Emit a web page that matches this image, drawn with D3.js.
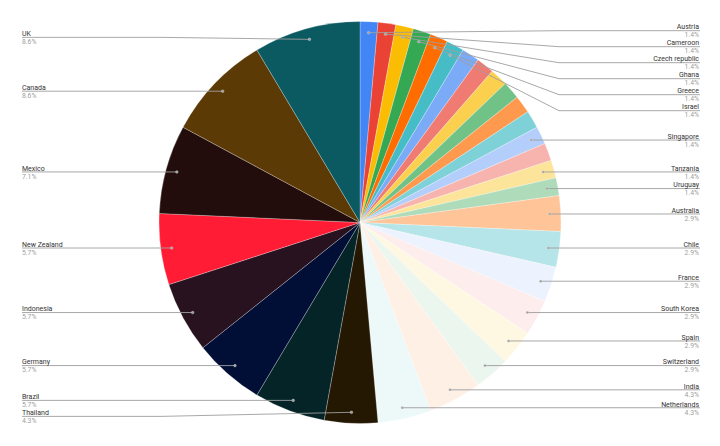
<!DOCTYPE html>
<html>
<head>
<meta charset="utf-8">
<script src="https://cdn.jsdelivr.net/npm/d3@7"></script>
<style>
html,body{margin:0;padding:0;background:#fff;}
svg{display:block;font-family:Roboto, Arial, sans-serif;}
</style>
</head>
<body>
<svg id="chart" width="720" height="446"></svg>
<script>
// Data (slice order as drawn, clockwise from 12 o'clock)
const countries = ["Austria","Cameroon","Czech republic","Ghana","Greece","Israel","Italy","Japan","Kenya","Malaysia","Nigeria","Norway","Singapore","Sweden","Tanzania","Uruguay",
  "Australia","Chile","France","South Korea","Spain","Switzerland","India","Netherlands","Thailand","Brazil","Germany","Indonesia","New Zealand","Mexico","Canada","UK"];
const values = [1,1,1,1,1,1,1,1,1,1,1,1,1,1,1,1,
  2,2,2,2,2,2,3,3,3,4,4,4,4,5,6,6];
const colors = ["#4285f4","#ea4335","#fbbc04","#34a853","#ff6d01","#46bdc6","#7baaf7","#f07b72","#fcd04f","#71c287","#ff994d","#7ed1d7","#b3cefb","#f7b4ae","#fde49b","#aedcba",
  "#ffc599","#b5e5e8","#ecf3fe","#fdedec","#fef8e3","#ebf6ee","#fff0e6","#edf8f9","#251802","#042428","#010e35","#281220","#ff1c34","#230d0c","#5c3a06","#0b5a62"];
const hiddenLabels = ["Italy","Japan","Kenya","Malaysia","Nigeria","Norway","Sweden"];

const svg = d3.select("#chart");
const cx = 360, cy = 222.5, R = 201, rDot = 190;
const total = d3.sum(values);
const data = countries.map((c,i)=>({name:c, value:values[i], color:colors[i]}));

const pie = d3.pie().value(d=>d.value).sort(null);
const arcs = pie(data);
const arc = d3.arc().innerRadius(0).outerRadius(R);
const dotArc = d3.arc().innerRadius(rDot).outerRadius(rDot);

const g = svg.append("g").attr("transform",`translate(${cx},${cy})`);
g.selectAll("path.slice").data(arcs).enter().append("path")
  .attr("class","slice")
  .attr("d",arc)
  .attr("fill",d=>d.data.color)
  .attr("stroke","#ffffff").attr("stroke-width",0.5).attr("stroke-opacity",0.5);

// labels
const fmt = v => (v/total*100).toFixed(1) + "%";
const labs = arcs.filter(a=>!hiddenLabels.includes(a.data.name)).map(a=>{
  const [x,y] = dotArc.centroid(a);
  return {a, dx: cx + x, dy: cy + y, side: x > 0 ? "right" : "left"};
});
const gap = 16;
["right","left"].forEach(side=>{
  const list = labs.filter(l=>l.side===side).sort((p,q)=>p.dy-q.dy);
  let prev = -Infinity;
  list.forEach((l,i)=>{ l.ly = Math.max(i===0 ? l.dy - 2 : l.dy, prev + gap); prev = l.ly; });
});

const lg = svg.append("g");
labs.forEach(l=>{
  let pts;
  if (l.side === "right") {
    const bx = Math.max(l.dx, cx + R - 2);
    pts = [[l.dx,l.dy],[bx,l.ly],[700,l.ly]];
  } else {
    const bx = Math.min(l.dx, cx - R + 2);
    pts = [[l.dx,l.dy],[bx,l.ly],[22,l.ly]];
  }
  lg.append("path").attr("d", d3.line()(pts))
    .attr("fill","none").attr("stroke","#9e9e9e").attr("stroke-width",0.9);
  lg.append("circle").attr("cx",l.dx).attr("cy",l.dy).attr("r",1.3)
    .attr("fill","#9e9e9e").attr("stroke","#dddddd").attr("stroke-width",0.4);
  const tx = l.side === "right" ? 699 : 22;
  const anchor = l.side === "right" ? "end" : "start";
  lg.append("text").attr("x",tx).attr("y",l.ly-1.2).attr("text-anchor",anchor)
    .attr("font-size",7).attr("fill","#333").text(l.a.data.name);
  lg.append("text").attr("x",tx).attr("y",l.ly+6.8).attr("text-anchor",anchor)
    .attr("font-size",6.8).attr("fill","#a0a0a0").text(fmt(l.a.data.value));
});
</script>
</body>
</html>
